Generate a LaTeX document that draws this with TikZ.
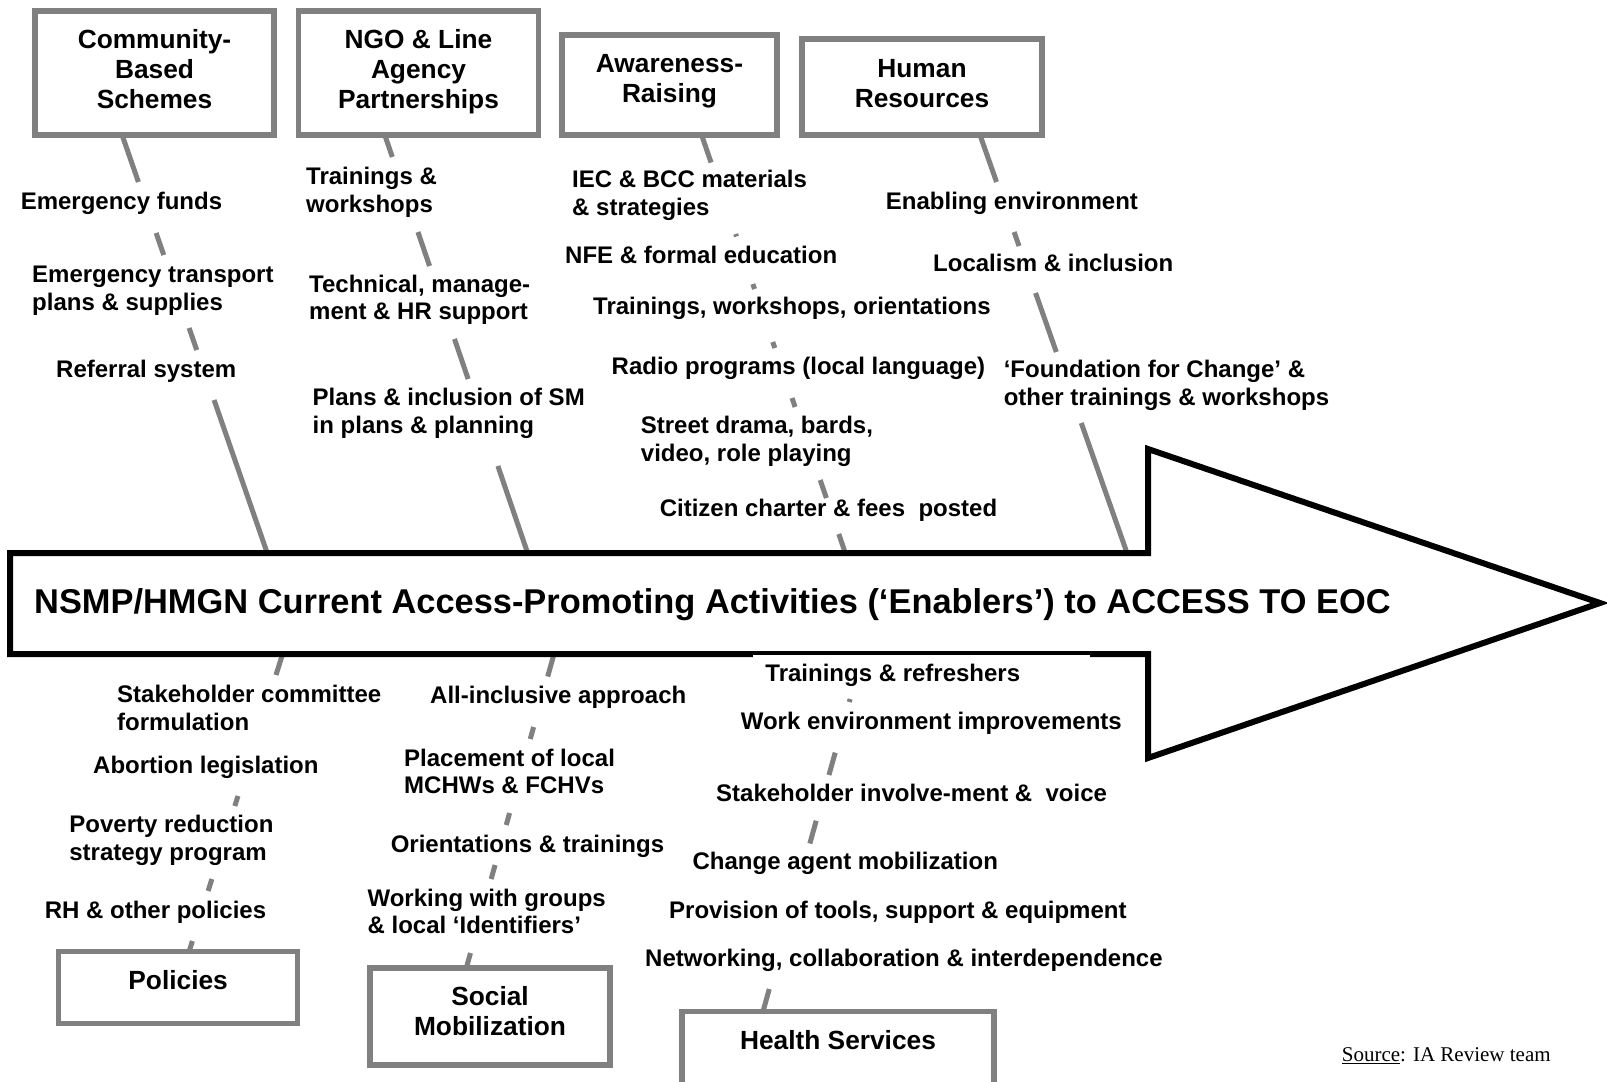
\documentclass[tikz,border=0pt]{standalone}
\usepackage{fontspec}
\setmainfont{Liberation Sans}
\newfontfamily\srcfont{Liberation Serif}
\usetikzlibrary{calc}
\definecolor{bonegray}{RGB}{128,128,128}
\newcommand{\lst}{\rule{0pt}{19pt}}
\newcommand{\tst}{\rule{0pt}{20.5pt}}
\newcommand{\bonesegs}[3]{\foreach \s/\e in {#3} {\draw[bone] ($(#1)!\s!(#2)$) -- ($(#1)!\e!(#2)$);}}
\begin{document}
\begin{tikzpicture}[x=1pt,y=-1pt,
  box/.style={draw=bonegray, line width=5.4pt, fill=white, inner sep=0pt},
  bone/.style={draw=bonegray, line width=5pt},
  lab/.style={font=\bfseries\fontsize{24}{27.7}\selectfont, align=left, anchor=north west, inner sep=0pt},
  ttl/.style={font=\bfseries\fontsize{26.3}{30}\selectfont, align=center, anchor=north, inner sep=0pt},
  arrowline/.style={draw=black, line width=6pt, fill=white, line join=miter}]
\useasboundingbox (0,0) rectangle (1607,1082);
\clip (0,0) rectangle (1607,1082);
\fill[white] (0,0) rectangle (1607,1082);

% bone end points
\coordinate (b1s) at (122.1,135);  \coordinate (b1e) at (267.2,553);
\coordinate (b2s) at (384.8,135);  \coordinate (b2e) at (527.6,553);
\coordinate (b3s) at (701.6,135);  \coordinate (b3e) at (845.3,553);
\coordinate (b4s) at (980,135);    \coordinate (b4e) at (1127,553);
\coordinate (b5s) at (282.6,654);  \coordinate (b5e) at (189.1,951.5);
\coordinate (b6s) at (554,654);    \coordinate (b6e) at (466.3,968);
\coordinate (b7s) at (862.7,654);  \coordinate (b7e) at (763,1011.5);

% bones
\bonesegs{b1s}{b1e}{0/0.1124, 0.2344/0.2871, 0.4617/0.5144, 0.6340/1}
\bonesegs{b2s}{b2e}{0/0.0526, 0.2321/0.3134, 0.4880/0.5837, 0.7919/1}
\bonesegs{b3s}{b3e}{0/0.0658, 0.2368/0.2428, 0.3565/0.3684, 0.4952/0.5096, 0.6292/0.6507, 0.8254/0.8684, 0.9545/1}
\bonesegs{b4s}{b4e}{0/0.1124, 0.2321/0.2656, 0.3780/0.5191, 0.6890/1}
\bonesegs{b5s}{b5e}{0/0.0706, 0.4773/0.5109, 0.7563/0.7966, 0.9647/1}
\bonesegs{b6s}{b6e}{0/0.0717, 0.2325/0.2707, 0.5064/0.5446, 0.6720/0.7166, 0.9522/1}
\bonesegs{b7s}{b7e}{0.1259/0.1343, 0.2758/0.3385, 0.4663/0.5301, 0.9371/1}

% main arrow
\draw[arrowline] (10,553) -- (1148,553) -- (1148,449) -- (1600,603) -- (1148,758) -- (1148,654) -- (10,654) -- cycle;
\node[anchor=base west, inner sep=0pt, font=\bfseries\fontsize{34.4}{40}\selectfont] (main) at (34,613)
  {NSMP/HMGN Current Access-Promoting Activities (‘Enablers’) to ACCESS TO EOC};
\fill[white] (753,654.5) rectangle (1090,690);

% category boxes
\node[box, minimum width=239pt, minimum height=124pt] (cbs) at (154.5,73) {};
\node[box, minimum width=240pt, minimum height=124pt] (ngo) at (418.5,73) {};
\node[box, minimum width=215pt, minimum height=100pt] (awr) at (669.5,85) {};
\node[box, minimum width=240pt, minimum height=96pt]  (hr)  at (922,87) {};
\node[box, minimum width=239.2pt, minimum height=72pt] (pol) at (178.1,987.5) {};
\node[box, minimum width=240pt, minimum height=97pt]  (soc) at (490,1016.5) {};
\node[box, minimum width=312pt, minimum height=88.5pt] (hs) at (838,1055.75) {};

\node[ttl] (cbs-t) at (154.5,28.2) {\tst Community-\\Based\\Schemes};
\node[ttl] (ngo-t) at (418.5,28.2) {\tst NGO \& Line\\Agency\\Partnerships};
\node[ttl] (awr-t) at (669.5,51.4) {\tst Awareness-\\Raising};
\node[ttl] (hr-t)  at (922,56.4) {\tst Human\\Resources};
\node[ttl] (pol-t) at (178.1,968.4) {\tst Policies};
\node[ttl] (soc-t) at (490,984.9) {\tst Social\\Mobilization};
\node[ttl] (hs-t)  at (838,1028.7) {\tst Health Services};

% labels: community-based schemes
\node[lab] (ef) at (20.6,190.6) {\lst Emergency funds};
\node[lab] (et) at (32,263.6) {\lst Emergency transport\\plans \& supplies};
\node[lab] (rs) at (56,358.4) {\lst Referral system};
% NGO
\node[lab] (tw) at (306,165.6) {\lst Trainings \&\\workshops};
\node[lab] (tm) at (309,273) {\lst Technical, manage-\\ment \& HR support};
\node[lab] (pi) at (312.5,386.6) {\lst Plans \& inclusion of SM\\in plans \& planning};
% awareness
\node[lab] (iec) at (572,168.2) {\lst IEC \& BCC materials\\\& strategies};
\node[lab] (nfe) at (565,244.1) {\lst NFE \& formal education};
\node[lab] (tr)  at (593,295.6) {\lst Trainings, workshops, orientations};
\node[lab] (rp)  at (611.5,355.6) {\lst Radio programs (local language)};
\node[lab] (sd)  at (640.7,414.6) {\lst Street drama, bards,\\video, role playing};
\node[lab] (cc)  at (659.6,497.6) {\lst Citizen charter \& fees~ posted};
% human resources
\node[lab] (en) at (885.7,190.6) {\lst Enabling environment};
\node[lab] (lo) at (933,252.6) {\lst Localism \& inclusion};
\node[lab] (fc) at (1003.6,358.4) {\lst ‘Foundation for Change’ \&\\other trainings \& workshops};
% policies
\node[lab] (sc) at (117,683.1) {\lst Stakeholder committee\\formulation};
\node[lab] (ab) at (93,754.3) {\lst Abortion legislation};
\node[lab] (pv) at (69.2,813.4) {\lst Poverty reduction\\strategy program};
\node[lab] (rh) at (44.6,899.1) {\lst RH \& other policies};
% social mobilization
\node[lab] (ai) at (430,684.6) {\lst All-inclusive approach};
\node[lab] (pl) at (404,746.8) {\lst Placement of local\\MCHWs \& FCHVs};
\node[lab] (or) at (390.6,833.4) {\lst Orientations \& trainings};
\node[lab] (wg) at (367.4,886.8) {\lst Working with groups\\\& local ‘Identifiers’};
% health services
\node[lab] (trr) at (765.2,662.6) {\lst Trainings \& refreshers};
\node[lab] (we)  at (740.6,710.6) {\lst Work environment improvements};
\node[lab] (si)  at (716,782.4) {\lst Stakeholder involve-ment \&~ voice};
\node[lab] (ca)  at (692.4,850.6) {\lst Change agent mobilization};
\node[lab] (pt)  at (669,899.1) {\lst Provision of tools, support \& equipment};
\node[lab] (nw)  at (645,947) {\lst Networking, collaboration \& interdependence};

% source
\node[anchor=base west, inner sep=0pt, font=\srcfont\fontsize{21}{24}\selectfont] (src) at (1341.7,1061.7)
  {\underline{Source}: IA Review team};
\end{tikzpicture}
\end{document}
